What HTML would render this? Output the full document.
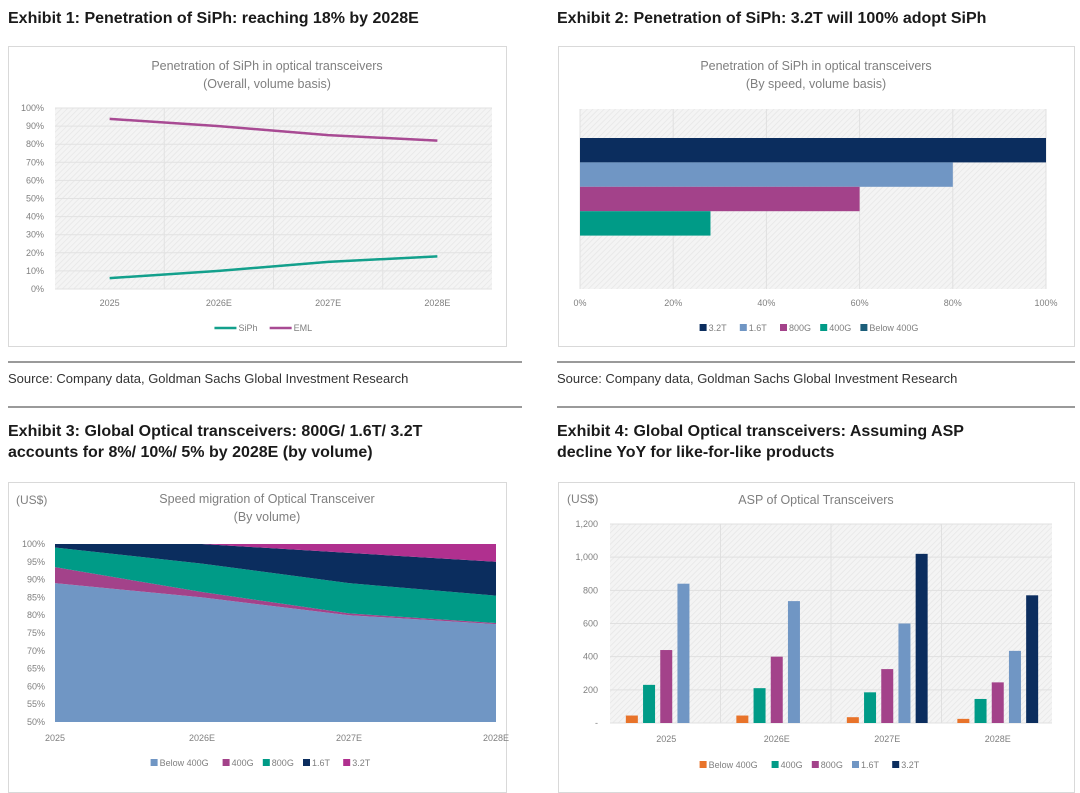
<!DOCTYPE html>
<html><head><meta charset="utf-8"><style>
body{margin:0;background:#fff;width:1080px;height:793px;overflow:hidden;font-family:"Liberation Sans",sans-serif}
svg{display:block}
</style></head><body>
<svg id="s" width="1080" height="793" xmlns="http://www.w3.org/2000/svg">
<defs>
<pattern id="hatch" width="4" height="4" patternUnits="userSpaceOnUse" patternTransform="rotate(45)">
<rect width="4" height="4" fill="#f4f4f4"/><line x1="0" y1="0" x2="0" y2="4" stroke="#e6e6e6" stroke-width="1.5"/>
</pattern>
</defs>
<g font-weight="bold" font-size="16" fill="#1a1a1a">
<text x="8" y="23">Exhibit 1: Penetration of SiPh: reaching 18% by 2028E</text>
<text x="557" y="23">Exhibit 2: Penetration of SiPh: 3.2T will 100% adopt SiPh</text>
<text x="8" y="436">Exhibit 3: Global Optical transceivers: 800G/ 1.6T/ 3.2T</text>
<text x="8" y="457">accounts for 8%/ 10%/ 5% by 2028E (by volume)</text>
<text x="557" y="436">Exhibit 4: Global Optical transceivers: Assuming ASP</text>
<text x="557" y="457">decline YoY for like-for-like products</text>
</g>
<g stroke="#9a9a9a" stroke-width="2">
<line x1="8" y1="362" x2="522" y2="362"/>
<line x1="8" y1="407" x2="522" y2="407"/>
<line x1="557" y1="362" x2="1075" y2="362"/>
<line x1="557" y1="407" x2="1075" y2="407"/>
</g>
<g font-size="13" fill="#333">
<text x="8" y="383">Source: Company data, Goldman Sachs Global Investment Research</text>
<text x="557" y="383">Source: Company data, Goldman Sachs Global Investment Research</text>
</g>
<g fill="#fff" stroke="#d9d9d9" stroke-width="1">
<rect x="8.5" y="46.5" width="498" height="300"/>
<rect x="558.5" y="46.5" width="516" height="300"/>
<rect x="8.5" y="482.5" width="498" height="310"/>
<rect x="558.5" y="482.5" width="516" height="310"/>
</g>
<g id="c1"></g><g id="c2"></g><g id="c3"></g><g id="c4"></g>
</svg>
<script>
// Chart 1 data
const c1Cats = ["2025","2026E","2027E","2028E"];
const c1SiPh = [6,10,15,18];
const c1EML = [94,90,85,82];
const c1Ticks = [0,10,20,30,40,50,60,70,80,90,100];
// Chart 2 data
const c2Series = ["3.2T","1.6T","800G","400G","Below 400G"];
const c2Values = [100,80,60,28,0];
const c2Ticks = [0,20,40,60,80,100];
// Chart 3 data
const c3Cats = ["2025","2026E","2027E","2028E"];
const c3Below400 = [89,85,80,77.5];
const c3G400 = [4.5,1.5,0.5,0.3];
const c3G800 = [5.5,8,8.5,7.7];
const c3T16 = [1,5.5,8.5,9.5];
const c3T32 = [0,0,2.5,5];
const c3Ticks = [50,55,60,65,70,75,80,85,90,95,100];
// Chart 4 data
const c4Cats = ["2025","2026E","2027E","2028E"];
const c4Below400 = [45,45,35,25];
const c4G400 = [230,210,185,145];
const c4G800 = [440,400,325,245];
const c4T16 = [840,735,600,435];
const c4T32 = [0,0,1020,770];
const c4Ticks = [0,200,400,600,800,1000,1200];
const c4TickLabels = ["-","200","400","600","800","1,000","1,200"];

const NS="http://www.w3.org/2000/svg";
function mk(parent,tag,attrs,text){const e=document.createElementNS(NS,tag);for(const k in attrs)e.setAttribute(k,attrs[k]);if(text!==undefined)e.textContent=text;parent.appendChild(e);return e;}
const GREY="#7f7f7f";
function legend(g,items,cx,y,type,prefix){
  // items: [label,color]
  const sw = type==="line"?22:7;
  let widths=items.map(it=>sw+4+it[0].length*5.3+8);
  let total=widths.reduce((a,b)=>a+b,0);
  let x=cx-total/2;
  items.forEach((it,i)=>{
    const grp=mk(g,"g",{});
    
    
    if(type==="line") mk(grp,"line",{x1:x,y1:y-3,x2:x+sw,y2:y-3,stroke:it[1],"stroke-width":2.5});
    else mk(grp,"rect",{x:x,y:y-7,width:7,height:7,fill:it[1]});
    mk(grp,"text",{x:x+sw+2,y:y,"font-size":9,fill:GREY},it[0]);
    x+=widths[i];
  });
}
function title(g,lines,cx,y,name){
  lines.forEach((l,i)=>{const t=mk(g,"text",{x:cx,y:y+i*18,"text-anchor":"middle","font-size":12.5,fill:GREY},l);
    
    });
}
// ---------- Chart 1 ----------
(function(){
  const g=document.getElementById("c1");
  const L=55,R=492,T=108,B=289;
  const y=v=>B-(v/100)*(B-T);
  const band=(R-L)/c1Cats.length;
  const x=i=>L+band*(i+0.5);
  const bg=mk(g,"rect",{x:L,y:T,width:R-L,height:B-T,fill:"url(#hatch)"});
  
  
  title(g,["Penetration of SiPh in optical transceivers","(Overall, volume basis)"],267,70,'chart-1-title');
  c1Ticks.forEach(v=>{
    mk(g,"line",{x1:L,x2:R,y1:y(v),y2:y(v),stroke:"#e2e2e2","stroke-width":1});
    const t=mk(g,"text",{x:44,y:y(v)+3,"text-anchor":"end","font-size":9,fill:GREY},v+"%");
    
    
  });
  for(let i=1;i<c1Cats.length;i++) mk(g,"line",{x1:L+band*i,x2:L+band*i,y1:T,y2:B,stroke:"#e2e2e2"});
  c1Cats.forEach((c,i)=>{const t=mk(g,"text",{x:x(i),y:306,"text-anchor":"middle","font-size":9,fill:GREY},c);
    
    });
  [[c1SiPh,"#13a08c","siph"],[c1EML,"#a84a93","eml"]].forEach(s=>{
    const p=mk(g,"polyline",{points:s[0].map((v,i)=>x(i)+","+y(v)).join(" "),fill:"none",stroke:s[1],"stroke-width":2.5});
    
    
  });
  legend(g,[["SiPh","#13a08c"],["EML","#a84a93"]],267,331,"line","chart-1");
})();
// ---------- Chart 2 ----------
(function(){
  const g=document.getElementById("c2");
  const L=580,R=1046,T=109,B=289;
  const x=v=>L+(v/100)*(R-L);
  const bg=mk(g,"rect",{x:L,y:T,width:R-L,height:B-T,fill:"url(#hatch)"});
  
  
  title(g,["Penetration of SiPh in optical transceivers","(By speed, volume basis)"],816,70,'chart-2-title');
  c2Ticks.forEach(v=>{
    mk(g,"line",{x1:x(v),x2:x(v),y1:T,y2:B,stroke:"#e0e0e0"});
    const t=mk(g,"text",{x:x(v),y:306,"text-anchor":"middle","font-size":9,fill:GREY},v+"%");
    
    
  });
  const colors=["#0b2d5e","#7096c4","#a3428a","#009b87","#1b5e7a"];
  const bh=24.4, top=T+(B-T-bh*c2Series.length)/2;
  c2Series.forEach((s,i)=>{
    const r=mk(g,"rect",{x:L,y:top+i*bh,width:x(c2Values[i])-L,height:bh,fill:colors[i]});
    
    
  });
  legend(g,c2Series.map((s,i)=>[s,colors[i]]),816,331,"box","chart-2");
})();
// ---------- Chart 3 ----------
(function(){
  const g=document.getElementById("c3");
  const L=55,R=496,T=544,B=722;
  const y=v=>B-((v-50)/50)*(B-T);
  const x=i=>L+i*(R-L)/(c3Cats.length-1);
  title(g,["Speed migration of Optical Transceiver","(By volume)"],267,503,'chart-3-title');
  const u=mk(g,"text",{x:16,y:504,"font-size":12,fill:GREY},"(US$)");
  
  
  c3Ticks.forEach(v=>{const t=mk(g,"text",{x:45,y:y(v)+3,"text-anchor":"end","font-size":9,fill:GREY},v+"%");
    
    });
  c3Cats.forEach((c,i)=>{const t=mk(g,"text",{x:x(i),y:741,"text-anchor":"middle","font-size":9,fill:GREY},c);
    
    });
  const series=[["Below 400G",c3Below400,"#7096c4"],["400G",c3G400,"#a3428a"],["800G",c3G800,"#009b87"],["1.6T",c3T16,"#0b2d5e"],["3.2T",c3T32,"#b0308f"]];
  let base=c3Cats.map(()=>0);
  series.forEach(s=>{
    const top=base.map((b,i)=>b+s[1][i]);
    const pts=top.map((v,i)=>x(i)+","+y(Math.max(50,Math.min(100,v))));
    const bot=base.map((v,i)=>x(i)+","+y(Math.max(50,Math.min(100,v)))).reverse();
    const p=mk(g,"polygon",{points:pts.concat(bot).join(" "),fill:s[2]});
    
    
    base=top;
  });
  legend(g,series.map(s=>[s[0],s[2]]),267,766,"box","chart-3");
})();
// ---------- Chart 4 ----------
(function(){
  const g=document.getElementById("c4");
  const L=610,R=1052,T=524,B=723;
  const y=v=>B-(v/1200)*(B-T);
  const band=(R-L)/c4Cats.length;
  const bg=mk(g,"rect",{x:L,y:T,width:R-L,height:B-T,fill:"url(#hatch)"});
  
  
  const tt=mk(g,"text",{x:816,y:504,"text-anchor":"middle","font-size":12.5,fill:GREY},"ASP of Optical Transceivers");
  
  
  const u=mk(g,"text",{x:567,y:503,"font-size":12,fill:GREY},"(US$)");
  
  
  c4Ticks.forEach((v,i)=>{
    mk(g,"line",{x1:L,x2:R,y1:y(v),y2:y(v),stroke:"#e0e0e0"});
    const t=mk(g,"text",{x:598,y:y(v)+3,"text-anchor":"end","font-size":9,fill:GREY},c4TickLabels[i]);
    
    
  });
  for(let i=1;i<c4Cats.length;i++) mk(g,"line",{x1:L+band*i,x2:L+band*i,y1:T,y2:B,stroke:"#e0e0e0"});
  const series=[["Below 400G",c4Below400,"#e8732a"],["400G",c4G400,"#009b87"],["800G",c4G800,"#a3428a"],["1.6T",c4T16,"#7096c4"],["3.2T",c4T32,"#0b2d5e"]];
  const pitch=17.2,bw=12;
  c4Cats.forEach((c,i)=>{
    const cx=L+band*(i+0.5)+1;
    series.forEach((s,j)=>{
      const bx=cx+(j-2)*pitch-bw/2;
      const r=mk(g,"rect",{x:bx,y:y(s[1][i]),width:bw,height:B-y(s[1][i]),fill:s[2]});
      
      
    });
    const t=mk(g,"text",{x:cx,y:742,"text-anchor":"middle","font-size":9,fill:GREY},c);
    
    
  });
  legend(g,series.map(s=>[s[0],s[2]]),816,768,"box","chart-4");
})();
</script>
</body></html>
